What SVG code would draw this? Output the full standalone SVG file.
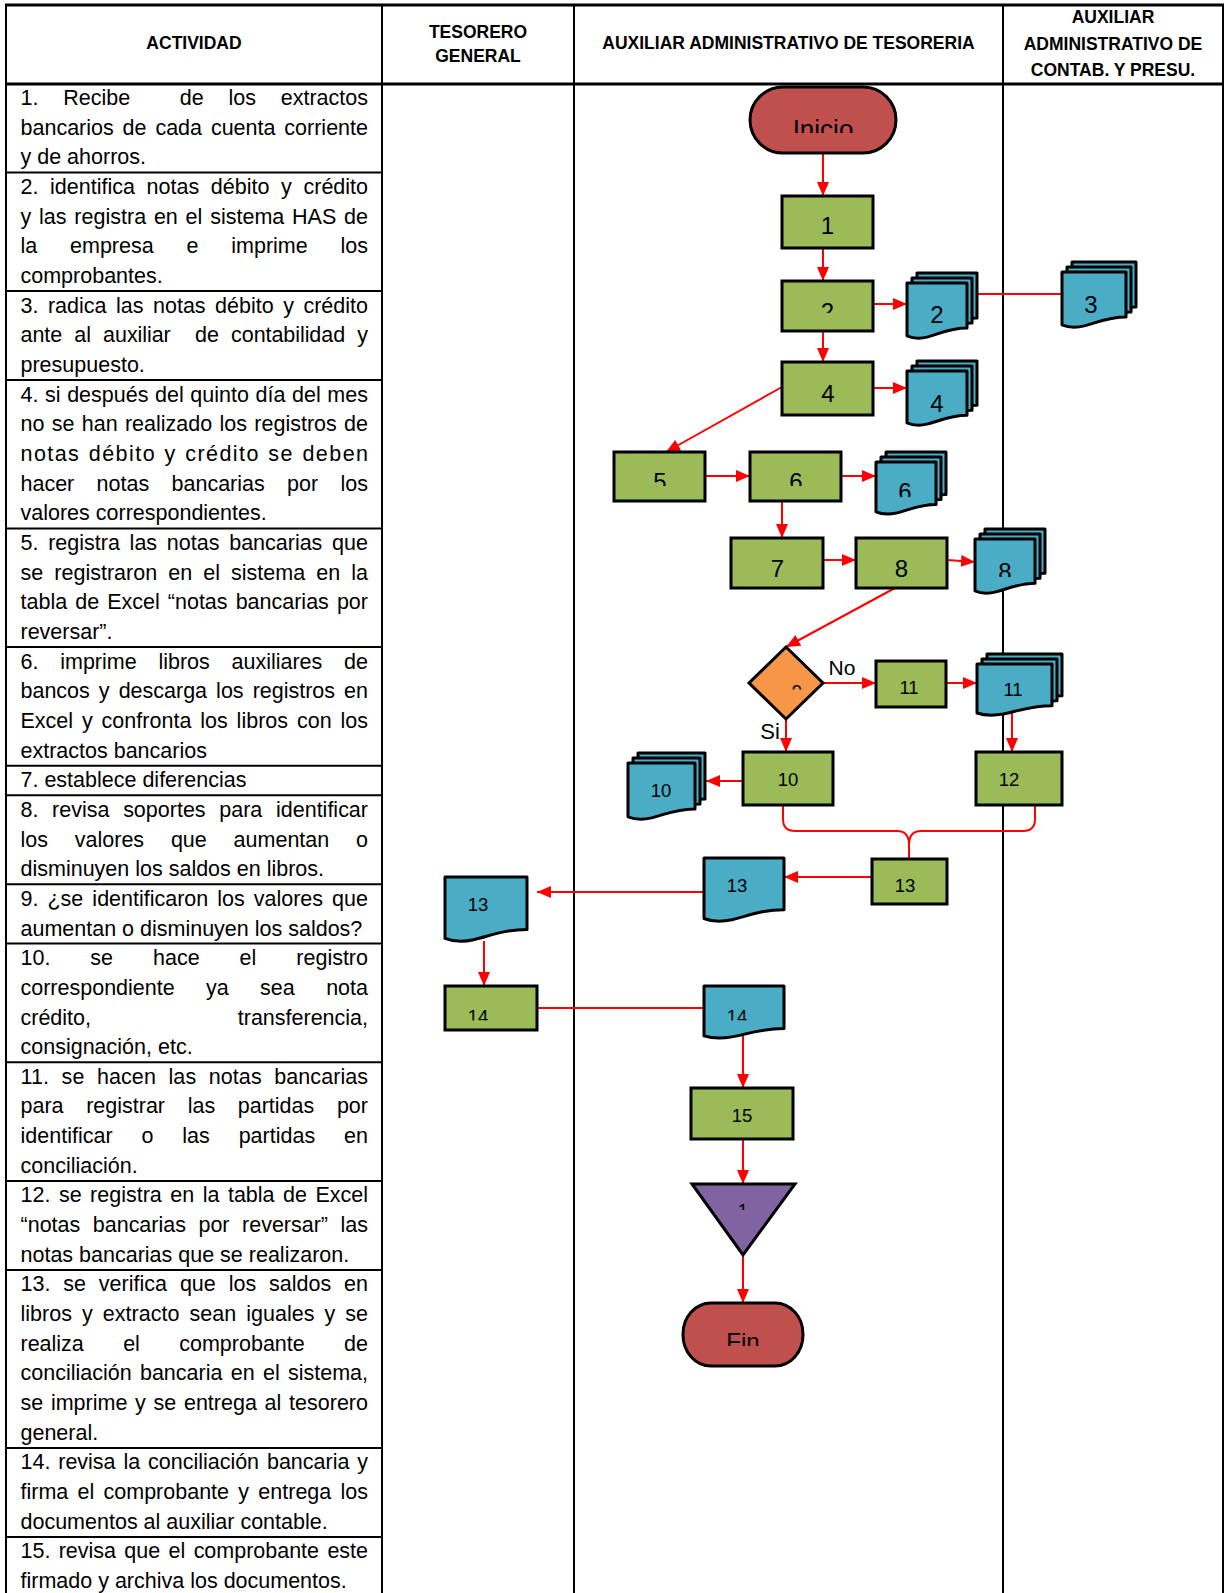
<svg xmlns="http://www.w3.org/2000/svg" width="1225" height="1593" viewBox="0 0 1225 1593">
<style>
.t{font-family:"Liberation Sans",Arial,sans-serif;font-size:21.5px;fill:#000}
.h{font-family:"Liberation Sans",Arial,sans-serif;font-size:17.5px;font-weight:bold;text-anchor:middle;fill:#000}
.grid{stroke:#000;stroke-width:2;fill:none}
.proc{fill:#9BBB59;stroke:#000;stroke-width:3}
.doc{fill:#4BACC6;stroke:#000;stroke-width:3;stroke-linejoin:round}
.term{fill:#C0504D;stroke:#000;stroke-width:3}
.dec{fill:#F79646;stroke:#000;stroke-width:3;stroke-linejoin:miter}
.arch{fill:#8064A2;stroke:#000;stroke-width:3}
.conn{stroke:#FF0000;stroke-width:2;fill:none}
.big{font-family:"Liberation Sans",Arial,sans-serif;font-size:24px;text-anchor:middle;fill:#000}
.sm{font-family:"Liberation Sans",Arial,sans-serif;font-size:18.5px;text-anchor:middle;fill:#000}
.lbl{font-family:"Liberation Sans",Arial,sans-serif;font-size:21px;text-anchor:middle;fill:#000}
</style>
<defs>
<marker id="arr" markerUnits="userSpaceOnUse" markerWidth="14" markerHeight="12" refX="14" refY="6" orient="auto"><path d="M0,0 L14,6 L0,12 z" fill="#FF0000"/></marker>
<clipPath id="cInicio"><rect x="750" y="87" width="146" height="46"/></clipPath>
<clipPath id="cB2"><rect x="782" y="281" width="91" height="32"/></clipPath>
<clipPath id="cB5"><rect x="614" y="452" width="91" height="34"/></clipPath>
<clipPath id="cB6"><rect x="750" y="452" width="91" height="34"/></clipPath>
<clipPath id="cD6"><rect x="876" y="455" width="71" height="42"/></clipPath>
<clipPath id="cD8"><rect x="975" y="530" width="71" height="47"/></clipPath>
<clipPath id="c9"><rect x="749" y="647" width="74" height="42.5"/></clipPath>
<clipPath id="cTri"><rect x="692" y="1184" width="103" height="26"/></clipPath>
<clipPath id="cFin"><rect x="683" y="1303" width="120" height="43"/></clipPath>
<clipPath id="cB14"><rect x="445" y="986" width="92" height="34.5"/></clipPath>
<clipPath id="cD14"><rect x="704" y="986" width="80" height="34.5"/></clipPath>
</defs>
<rect x="0" y="0" width="1225" height="1593" fill="#fff"/>

<g id="table">
<line class="grid" x1="5" y1="5" x2="1224" y2="5" style="stroke-width:3"/>
<line class="grid" x1="5" y1="84" x2="1224" y2="84" style="stroke-width:3"/>
<line class="grid" x1="6" y1="4" x2="6" y2="1593"/>
<line class="grid" x1="382" y1="4" x2="382" y2="1593"/>
<line class="grid" x1="574" y1="4" x2="574" y2="1593"/>
<line class="grid" x1="1003" y1="4" x2="1003" y2="1593"/>
<line class="grid" x1="1223" y1="4" x2="1223" y2="1593"/>
<g class="grid">
<line x1="6" y1="172.5" x2="382" y2="172.5"/>
<line x1="6" y1="291.1" x2="382" y2="291.1"/>
<line x1="6" y1="380.1" x2="382" y2="380.1"/>
<line x1="6" y1="528.4" x2="382" y2="528.4"/>
<line x1="6" y1="647" x2="382" y2="647"/>
<line x1="6" y1="765.7" x2="382" y2="765.7"/>
<line x1="6" y1="795.3" x2="382" y2="795.3"/>
<line x1="6" y1="884.3" x2="382" y2="884.3"/>
<line x1="6" y1="943.6" x2="382" y2="943.6"/>
<line x1="6" y1="1062.3" x2="382" y2="1062.3"/>
<line x1="6" y1="1181" x2="382" y2="1181"/>
<line x1="6" y1="1270" x2="382" y2="1270"/>
<line x1="6" y1="1448" x2="382" y2="1448"/>
<line x1="6" y1="1537" x2="382" y2="1537"/>
</g>
<text class="h" x="194" y="49">ACTIVIDAD</text>
<text class="h" x="478" y="37.5">TESORERO</text>
<text class="h" x="478" y="62">GENERAL</text>
<text class="h" x="788.5" y="49">AUXILIAR ADMINISTRATIVO DE TESORERIA</text>
<text class="h" x="1113" y="23">AUXILIAR</text>
<text class="h" x="1113" y="50">ADMINISTRATIVO DE</text>
<text class="h" x="1113" y="76">CONTAB. Y PRESU.</text>
</g>

<g id="activities" class="t">
<text x="20.5" y="105" textLength="347.5" lengthAdjust="spacing" style="word-spacing:18.8px" xml:space="preserve">1. Recibe  de los extractos</text>
<text x="20.5" y="134.7" textLength="347.5" lengthAdjust="spacing" style="word-spacing:2.9px">bancarios de cada cuenta corriente</text>
<text x="20.5" y="164.3">y de ahorros.</text>
<text x="20.5" y="194" textLength="347.5" lengthAdjust="spacing" style="word-spacing:5.7px">2. identifica notas débito y crédito</text>
<text x="20.5" y="223.6" textLength="347.5" lengthAdjust="spacing" style="word-spacing:1.8px">y las registra en el sistema HAS de</text>
<text x="20.5" y="253.3" textLength="347.5" lengthAdjust="spacing" style="word-spacing:26.8px">la empresa e imprime los</text>
<text x="20.5" y="283">comprobantes.</text>
<text x="20.5" y="312.6" textLength="347.5" lengthAdjust="spacing" style="word-spacing:3.5px">3. radica las notas débito y crédito</text>
<text x="20.5" y="342.3" textLength="347.5" lengthAdjust="spacing" style="word-spacing:6.3px" xml:space="preserve">ante al auxiliar  de contabilidad y</text>
<text x="20.5" y="371.9">presupuesto.</text>
<text x="20.5" y="401.6" textLength="347.5" lengthAdjust="spacing" style="word-spacing:0.6px">4. si después del quinto día del mes</text>
<text x="20.5" y="431.3" textLength="347.5" lengthAdjust="spacing" style="word-spacing:1.3px">no se han realizado los registros de</text>
<text x="20.5" y="460.9" textLength="347.5" lengthAdjust="spacing" style="word-spacing:1.1px">notas débito y crédito se deben</text>
<text x="20.5" y="490.6" textLength="347.5" lengthAdjust="spacing" style="word-spacing:16.4px">hacer notas bancarias por los</text>
<text x="20.5" y="520.2">valores correspondientes.</text>
<text x="20.5" y="549.9" textLength="347.5" lengthAdjust="spacing" style="word-spacing:3.8px">5. registra las notas bancarias que</text>
<text x="20.5" y="579.6" textLength="347.5" lengthAdjust="spacing" style="word-spacing:5.1px">se registraron en el sistema en la</text>
<text x="20.5" y="609.2" textLength="347.5" lengthAdjust="spacing" style="word-spacing:2.1px">tabla de Excel “notas bancarias por</text>
<text x="20.5" y="638.9">reversar”.</text>
<text x="20.5" y="668.5" textLength="347.5" lengthAdjust="spacing" style="word-spacing:15.8px">6. imprime libros auxiliares de</text>
<text x="20.5" y="698.2" textLength="347.5" lengthAdjust="spacing" style="word-spacing:3.1px">bancos y descarga los registros en</text>
<text x="20.5" y="727.9" textLength="347.5" lengthAdjust="spacing" style="word-spacing:2.9px">Excel y confronta los libros con los</text>
<text x="20.5" y="757.5">extractos bancarios</text>
<text x="20.5" y="787.2">7. establece diferencias</text>
<text x="20.5" y="816.8" textLength="347.5" lengthAdjust="spacing" style="word-spacing:7.7px">8. revisa soportes para identificar</text>
<text x="20.5" y="846.5" textLength="347.5" lengthAdjust="spacing" style="word-spacing:20.8px">los valores que aumentan o</text>
<text x="20.5" y="876.2">disminuyen los saldos en libros.</text>
<text x="20.5" y="905.8" textLength="347.5" lengthAdjust="spacing" style="word-spacing:3.1px">9. ¿se identificaron los valores que</text>
<text x="20.5" y="935.5">aumentan o disminuyen los saldos?</text>
<text x="20.5" y="965.1" textLength="347.5" lengthAdjust="spacing" style="word-spacing:34px">10. se hace el registro</text>
<text x="20.5" y="994.8" textLength="347.5" lengthAdjust="spacing" style="word-spacing:25.4px">correspondiente ya sea nota</text>
<text x="20.5" y="1024.5" textLength="347.5" lengthAdjust="spacing" style="word-spacing:140.8px">crédito, transferencia,</text>
<text x="20.5" y="1054.1">consignación, etc.</text>
<text x="20.5" y="1083.8" textLength="347.5" lengthAdjust="spacing" style="word-spacing:6.6px">11. se hacen las notas bancarias</text>
<text x="20.5" y="1113.4" textLength="347.5" lengthAdjust="spacing" style="word-spacing:16.7px">para registrar las partidas por</text>
<text x="20.5" y="1143.1" textLength="347.5" lengthAdjust="spacing" style="word-spacing:22.9px">identificar o las partidas en</text>
<text x="20.5" y="1172.8">conciliación.</text>
<text x="20.5" y="1202.4" textLength="347.5" lengthAdjust="spacing" style="word-spacing:2.5px">12. se registra en la tabla de Excel</text>
<text x="20.5" y="1232.1" textLength="347.5" lengthAdjust="spacing" style="word-spacing:6.5px">“notas bancarias por reversar” las</text>
<text x="20.5" y="1261.7">notas bancarias que se realizaron.</text>
<text x="20.5" y="1291.4" textLength="347.5" lengthAdjust="spacing" style="word-spacing:6.9px">13. se verifica que los saldos en</text>
<text x="20.5" y="1321.1" textLength="347.5" lengthAdjust="spacing" style="word-spacing:4.1px">libros y extracto sean iguales y se</text>
<text x="20.5" y="1350.7" textLength="347.5" lengthAdjust="spacing" style="word-spacing:33.4px">realiza el comprobante de</text>
<text x="20.5" y="1380.4" textLength="347.5" lengthAdjust="spacing" style="word-spacing:2.3px">conciliación bancaria en el sistema,</text>
<text x="20.5" y="1410" textLength="347.5" lengthAdjust="spacing" style="word-spacing:1.7px">se imprime y se entrega al tesorero</text>
<text x="20.5" y="1439.7">general.</text>
<text x="20.5" y="1469.4" textLength="347.5" lengthAdjust="spacing" style="word-spacing:1.9px">14. revisa la conciliación bancaria y</text>
<text x="20.5" y="1499" textLength="347.5" lengthAdjust="spacing" style="word-spacing:3.3px">firma el comprobante y entrega los</text>
<text x="20.5" y="1528.7">documentos al auxiliar contable.</text>
<text x="20.5" y="1558.3" textLength="347.5" lengthAdjust="spacing" style="word-spacing:2.4px">15. revisa que el comprobante este</text>
<text x="20.5" y="1588">firmado y archiva los documentos.</text>
</g>

<g id="connectors" class="conn">
<path d="M823,153 V196" marker-end="url(#arr)"/>
<path d="M823,248 V281" marker-end="url(#arr)"/>
<path d="M823,331 V362" marker-end="url(#arr)"/>
<path d="M873,304 H907" marker-end="url(#arr)"/>
<path d="M978,294 H1062"/>
<path d="M873,388 H907" marker-end="url(#arr)"/>
<path d="M782,387 L666,452" marker-end="url(#arr)"/>
<path d="M705,476 H750" marker-end="url(#arr)"/>
<path d="M841,476 H876" marker-end="url(#arr)"/>
<path d="M782,501 V538" marker-end="url(#arr)"/>
<path d="M823,560 H856" marker-end="url(#arr)"/>
<path d="M947,560 L975,562" marker-end="url(#arr)"/>
<path d="M895,588 L786,647" marker-end="url(#arr)"/>
<path d="M823,683 H876" marker-end="url(#arr)"/>
<path d="M946,683 H977" marker-end="url(#arr)"/>
<path d="M1012,712 V752" marker-end="url(#arr)"/>
<path d="M786,719 V752" marker-end="url(#arr)"/>
<path d="M743,781 H706" marker-end="url(#arr)"/>
<path d="M783,805 V819 Q783,831 795,831 H897 Q909,831 909,845 V859 M1035,805 V819 Q1035,831 1023,831 H921 Q909,831 909,845"/>
<path d="M872,877 H784" marker-end="url(#arr)"/>
<path d="M704,892 H537" marker-end="url(#arr)"/>
<path d="M484,941 V986" marker-end="url(#arr)"/>
<path d="M537,1008 H704"/>
<path d="M743,1033 V1088" marker-end="url(#arr)"/>
<path d="M743,1139 V1184" marker-end="url(#arr)"/>
<path d="M743,1255 V1303" marker-end="url(#arr)"/>
<text class="lbl" x="842" y="675" style="stroke:none;fill:#000">No</text>
<text class="lbl" x="770" y="739" style="stroke:none;fill:#000;font-size:22px">Si</text>
</g>

<g id="inicio">
<rect class="term" x="750" y="87" width="146" height="66" rx="33" ry="33"/>
<text class="big" x="823" y="137.6" style="font-size:26px" clip-path="url(#cInicio)">Inicio</text>
</g>
<g id="n1"><rect class="proc" x="782" y="196" width="91" height="52"/><text class="big" x="827.5" y="234">1</text></g>
<g id="n2"><rect class="proc" x="782" y="281" width="91" height="50"/><text class="big" x="827.5" y="320" clip-path="url(#cB2)">2</text></g>
<g id="d2">
<path class="doc" transform="translate(917,273)" d="M0,0 h60 v45.1 c-16.8,0 -27,5.5 -39,8.8 c-9,2.2 -16.2,1.1 -21,-1.1 z"/>
<path class="doc" transform="translate(912,278)" d="M0,0 h60 v45.1 c-16.8,0 -27,5.5 -39,8.8 c-9,2.2 -16.2,1.1 -21,-1.1 z"/>
<path class="doc" transform="translate(907,283)" d="M0,0 h60 v45.1 c-16.8,0 -27,5.5 -39,8.8 c-9,2.2 -16.2,1.1 -21,-1.1 z"/>
<text class="big" x="937" y="323">2</text>
</g>
<g id="d3">
<path class="doc" transform="translate(1072,262)" d="M0,0 h64 v45.1 c-17.9,0 -28.8,5.5 -41.6,8.8 c-9.6,2.2 -17.3,1.1 -22.4,-1.1 z"/>
<path class="doc" transform="translate(1067,267)" d="M0,0 h64 v45.1 c-17.9,0 -28.8,5.5 -41.6,8.8 c-9.6,2.2 -17.3,1.1 -22.4,-1.1 z"/>
<path class="doc" transform="translate(1062,272)" d="M0,0 h64 v45.1 c-17.9,0 -28.8,5.5 -41.6,8.8 c-9.6,2.2 -17.3,1.1 -22.4,-1.1 z"/>
<text class="big" x="1091" y="313">3</text>
</g>
<g id="n4"><rect class="proc" x="782" y="362" width="91" height="53"/><text class="big" x="828" y="402">4</text></g>
<g id="d4">
<path class="doc" transform="translate(917,361)" d="M0,0 h60 v44.3 c-16.8,0 -27,5.4 -39,8.6 c-9,2.2 -16.2,1.1 -21,-1.1 z"/>
<path class="doc" transform="translate(912,366)" d="M0,0 h60 v44.3 c-16.8,0 -27,5.4 -39,8.6 c-9,2.2 -16.2,1.1 -21,-1.1 z"/>
<path class="doc" transform="translate(907,371)" d="M0,0 h60 v44.3 c-16.8,0 -27,5.4 -39,8.6 c-9,2.2 -16.2,1.1 -21,-1.1 z"/>
<text class="big" x="937" y="412">4</text>
</g>
<g id="n5"><rect class="proc" x="614" y="452" width="91" height="49"/><text class="big" x="660" y="490" clip-path="url(#cB5)">5</text></g>
<g id="n6"><rect class="proc" x="750" y="452" width="91" height="49"/><text class="big" x="796" y="490" clip-path="url(#cB6)">6</text></g>
<g id="d6">
<path class="doc" transform="translate(886,452)" d="M0,0 h60 v42.6 c-16.8,0 -27,5.2 -39,8.3 c-9,2.1 -16.2,1 -21,-1 z"/>
<path class="doc" transform="translate(881,457)" d="M0,0 h60 v42.6 c-16.8,0 -27,5.2 -39,8.3 c-9,2.1 -16.2,1 -21,-1 z"/>
<path class="doc" transform="translate(876,462)" d="M0,0 h60 v42.6 c-16.8,0 -27,5.2 -39,8.3 c-9,2.1 -16.2,1 -21,-1 z"/>
<text class="big" x="905" y="500" clip-path="url(#cD6)">6</text>
</g>
<g id="n7"><rect class="proc" x="731" y="538" width="92" height="50"/><text class="big" x="777.5" y="577">7</text></g>
<g id="n8"><rect class="proc" x="856" y="538" width="91" height="50"/><text class="big" x="901.5" y="577">8</text></g>
<g id="d8">
<path class="doc" transform="translate(985,529)" d="M0,0 h60 v44.3 c-16.8,0 -27,5.4 -39,8.6 c-9,2.2 -16.2,1.1 -21,-1.1 z"/>
<path class="doc" transform="translate(980,534)" d="M0,0 h60 v44.3 c-16.8,0 -27,5.4 -39,8.6 c-9,2.2 -16.2,1.1 -21,-1.1 z"/>
<path class="doc" transform="translate(975,539)" d="M0,0 h60 v44.3 c-16.8,0 -27,5.4 -39,8.6 c-9,2.2 -16.2,1.1 -21,-1.1 z"/>
<text class="big" x="1005" y="580" clip-path="url(#cD8)">8</text>
</g>
<g id="n9">
<polygon class="dec" points="786,647 823,683 786,719 749,683"/>
<text class="sm" x="797" y="698" clip-path="url(#c9)">9</text>
</g>
<g id="n11"><rect class="proc" x="876" y="661" width="70" height="46"/><text class="sm" x="909" y="694">11</text></g>
<g id="d11">
<path class="doc" transform="translate(987,654)" d="M0,0 h75 v41.8 c-21,0 -33.8,5.1 -48.8,8.2 c-11.2,2 -20.2,1 -26.2,-1 z"/>
<path class="doc" transform="translate(982,659)" d="M0,0 h75 v41.8 c-21,0 -33.8,5.1 -48.8,8.2 c-11.2,2 -20.2,1 -26.2,-1 z"/>
<path class="doc" transform="translate(977,664)" d="M0,0 h75 v41.8 c-21,0 -33.8,5.1 -48.8,8.2 c-11.2,2 -20.2,1 -26.2,-1 z"/>
<text class="sm" x="1013" y="696">11</text>
</g>
<g id="n10"><rect class="proc" x="743" y="752" width="90" height="53"/><text class="sm" x="788" y="786">10</text></g>
<g id="d10">
<path class="doc" transform="translate(638,753)" d="M0,0 h67 v45.9 c-18.8,0 -30.2,5.6 -43.5,9 c-10,2.2 -18.1,1.1 -23.5,-1.1 z"/>
<path class="doc" transform="translate(633,758)" d="M0,0 h67 v45.9 c-18.8,0 -30.2,5.6 -43.5,9 c-10,2.2 -18.1,1.1 -23.5,-1.1 z"/>
<path class="doc" transform="translate(628,763)" d="M0,0 h67 v45.9 c-18.8,0 -30.2,5.6 -43.5,9 c-10,2.2 -18.1,1.1 -23.5,-1.1 z"/>
<text class="sm" x="661" y="797">10</text>
</g>
<g id="n12"><rect class="proc" x="976" y="752" width="86" height="53"/><text class="sm" x="1009" y="786">12</text></g>
<g id="n13"><rect class="proc" x="872" y="859" width="75" height="45"/><text class="sm" x="905" y="892">13</text></g>
<g id="d13a">
<path class="doc" transform="translate(704,858)" d="M0,0 h80 v51.7 c-22.4,0 -36,6.3 -52,10.1 c-12,2.5 -21.6,1.3 -28,-1.3 z"/>
<text class="sm" x="737" y="892">13</text>
</g>
<g id="d13b">
<path class="doc" transform="translate(445,877)" d="M0,0 h82 v52.5 c-23,0 -36.9,6.4 -53.3,10.2 c-12.3,2.6 -22.1,1.3 -28.7,-1.3 z"/>
<text class="sm" x="478" y="911">13</text>
</g>
<g id="n14"><rect class="proc" x="445" y="986" width="92" height="44"/><text class="sm" x="478" y="1022.5" clip-path="url(#cB14)">14</text></g>
<g id="d14">
<path class="doc" transform="translate(704,986)" d="M0,0 h80 v42.6 c-22.4,0 -36,5.2 -52,8.3 c-12,2.1 -21.6,1 -28,-1 z"/>
<text class="sm" x="737" y="1022.5" clip-path="url(#cD14)">14</text>
</g>
<g id="n15"><rect class="proc" x="691" y="1088" width="102" height="51"/><text class="sm" x="742" y="1122">15</text></g>
<g id="archivo">
<polygon class="arch" points="692,1184 795,1184 743,1255"/>
<text class="sm" x="743" y="1217" clip-path="url(#cTri)">1</text>
</g>
<g id="fin">
<rect class="term" x="683" y="1303" width="120" height="63" rx="28" ry="31"/>
<text class="big" x="743" y="1350" clip-path="url(#cFin)">Fin</text>
</g>
</svg>
